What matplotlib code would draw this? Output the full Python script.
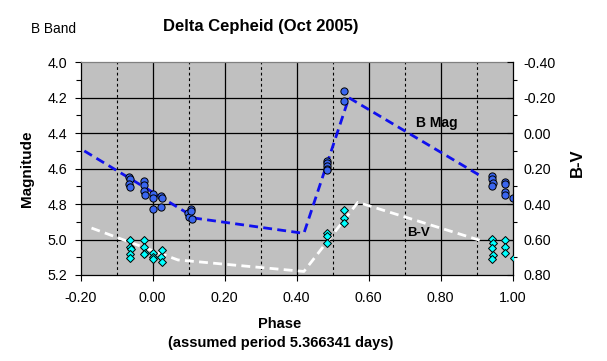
import matplotlib
matplotlib.use("Agg")
import matplotlib.pyplot as plt
from matplotlib.ticker import MultipleLocator, FormatStrFormatter

plt.rcParams['font.family'] = ['Liberation Sans', 'DejaVu Sans']
plt.rcParams['axes.unicode_minus'] = False

# ---- data ----
bmag_phase = [-0.065, -0.063, -0.066, -0.062, -0.024, -0.025, -0.024, -0.022,
              0.000, 0.000, 0.000, 0.023, 0.025, 0.023,
              0.097, 0.100, 0.106, 0.107, 0.108,
              0.485, 0.485, 0.485, 0.485, 0.485, 0.532, 0.532,
              0.942, 0.943, 0.944, 0.943, 0.979, 0.979, 0.979, 0.979, 1.002]
bmag = [4.645, 4.66, 4.685, 4.705, 4.672, 4.69, 4.728, 4.75,
        4.743, 4.765, 4.828, 4.755, 4.768, 4.815,
        4.85, 4.875, 4.83, 4.84, 4.885,
        4.555, 4.57, 4.585, 4.60, 4.61, 4.16, 4.218,
        4.64, 4.66, 4.68, 4.70, 4.674, 4.685, 4.73, 4.75, 4.764]

bv_phase = [-0.062, -0.064, -0.060, -0.062, -0.064, -0.023, -0.023, -0.022, -0.024,
            0.000, 0.002, 0.000, 0.025, 0.023, 0.025,
            0.485, 0.485, 0.485, 0.532, 0.532, 0.532,
            0.943, 0.944, 0.943, 0.944, 0.943, 0.978, 0.979, 0.979, 1.003]
bv = [0.603, 0.64, 0.655, 0.68, 0.706, 0.603, 0.64, 0.675, 0.68,
      0.678, 0.70, 0.71, 0.66, 0.70, 0.725,
      0.565, 0.58, 0.618, 0.433, 0.48, 0.505,
      0.599, 0.618, 0.65, 0.687, 0.712, 0.603, 0.644, 0.678, 0.706]

bmag_fit_phase = [-0.19, 0.12, 0.42, 0.545, 0.91]
bmag_fit = [4.50, 4.88, 4.965, 4.20, 4.64]
bv_fit_phase = [-0.17, 0.07, 0.42, 0.57, 0.91]
bv_fit = [0.535, 0.715, 0.78, 0.39, 0.605]

x_ticks = [-0.2, 0.0, 0.2, 0.4, 0.6, 0.8, 1.0]

# ---- figure ----
W, H = 607, 361
fig = plt.figure(figsize=(W / 100, H / 100), dpi=100)
fig.patch.set_facecolor('white')
L, R, T, B = 80.7, 512.7, 62.3, 275.0
ax = fig.add_axes([L / W, 1 - B / H, (R - L) / W, (B - T) / H])
ax.set_facecolor('#c0c0c0')

ax.set_xlim(-0.2, 1.0)
ax.set_ylim(5.2, 4.0)
ax.set_xticks(x_ticks)
ax.xaxis.set_major_formatter(FormatStrFormatter('%.2f'))
ax.yaxis.set_major_locator(MultipleLocator(0.2))
ax.yaxis.set_minor_locator(MultipleLocator(0.1))
ax.yaxis.set_major_formatter(FormatStrFormatter('%.1f'))

# grid
for gx in [0.0, 0.2, 0.4, 0.6, 0.8]:
    ax.axvline(gx, color='black', lw=0.9, zorder=1)
for gx in [-0.1, 0.1, 0.3, 0.5, 0.7, 0.9]:
    ax.axvline(gx, color='black', lw=0.8, ls=(0, (2.5, 2.5)), zorder=1)
for gy in [4.2, 4.4, 4.6, 4.8, 5.0]:
    ax.axhline(gy, color='black', lw=0.9, zorder=1)

ax.tick_params(axis='x', which='major', direction='out', length=4.3, width=0.8,
               labelsize=10.3, pad=7.0)
ax.tick_params(axis='y', which='major', direction='out', length=4.3, width=0.8,
               labelsize=10.3, pad=5.5)
ax.tick_params(axis='y', which='minor', direction='out', length=3.4, width=0.8)

for s in ['left', 'bottom']:
    ax.spines[s].set_color('black')
    ax.spines[s].set_linewidth(0.9)
ax.spines['top'].set_color('#808080')
ax.spines['top'].set_linewidth(0.9)
ax.spines['right'].set_visible(False)

ax.plot(bmag_fit_phase, bmag_fit, color='#1010ee', lw=2.0,
        ls=(0, (3.2, 1.9)), zorder=3)
ax.plot(bmag_phase, bmag, ls='none', marker='o', ms=5.2, mfc='#3a66f0',
        mec='black', mew=0.7, zorder=5)

ax.text(0.79, 4.34, 'B Mag', fontsize=10, fontweight='bold', ha='center',
        va='center', zorder=6)
ax.text(0.738, 4.962, 'B-V', fontsize=9.5, fontweight='bold', ha='center',
        va='center', zorder=6)

ax2 = ax.twinx()
ax2.set_ylim(0.8, -0.4)
ax2.yaxis.set_major_locator(MultipleLocator(0.2))
ax2.yaxis.set_minor_locator(MultipleLocator(0.1))
ax2.yaxis.set_major_formatter(FormatStrFormatter('%.2f'))
ax2.tick_params(axis='y', which='major', direction='in', length=4.3, width=0.8,
                labelsize=10.3, pad=8)
ax2.tick_params(axis='y', which='minor', direction='out', length=2.6, width=0.8)
ax2.spines['right'].set_color('black')
ax2.spines['right'].set_linewidth(0.9)
for s in ['top', 'left', 'bottom']:
    ax2.spines[s].set_visible(False)

ax2.plot(bv_fit_phase, bv_fit, color='white', lw=2.0,
         ls=(0, (3.2, 1.9)), zorder=3)
ax2.plot(bv_phase, bv, ls='none', marker='D', ms=4.4, mfc='#00ffff',
         mec='black', mew=0.7, zorder=5)

# texts
fig.text(261 / W, 1 - 27 / H, 'Delta Cepheid (Oct 2005)', fontsize=12,
         fontweight='bold', ha='center', va='center')
fig.text(31 / W, 1 - 29 / H, 'B Band', fontsize=9.8, ha='left', va='center')
fig.text(26.7 / W, 1 - 168.5 / H, 'Magnitude', fontsize=11, fontweight='bold',
         rotation=90, ha='center', va='center')
fig.text(577 / W, 1 - 162.5 / H, 'B-V', fontsize=12, fontweight='bold',
         rotation=90, ha='center', va='center')
fig.text(280 / W, 1 - 323.5 / H, 'Phase', fontsize=10.5, fontweight='bold',
         ha='center', va='center')
fig.text(280.5 / W, 1 - 343.5 / H, '(assumed period 5.366341 days)',
         fontsize=10.5, fontweight='bold', ha='center', va='center')

fig.savefig('out.png', dpi=100)
